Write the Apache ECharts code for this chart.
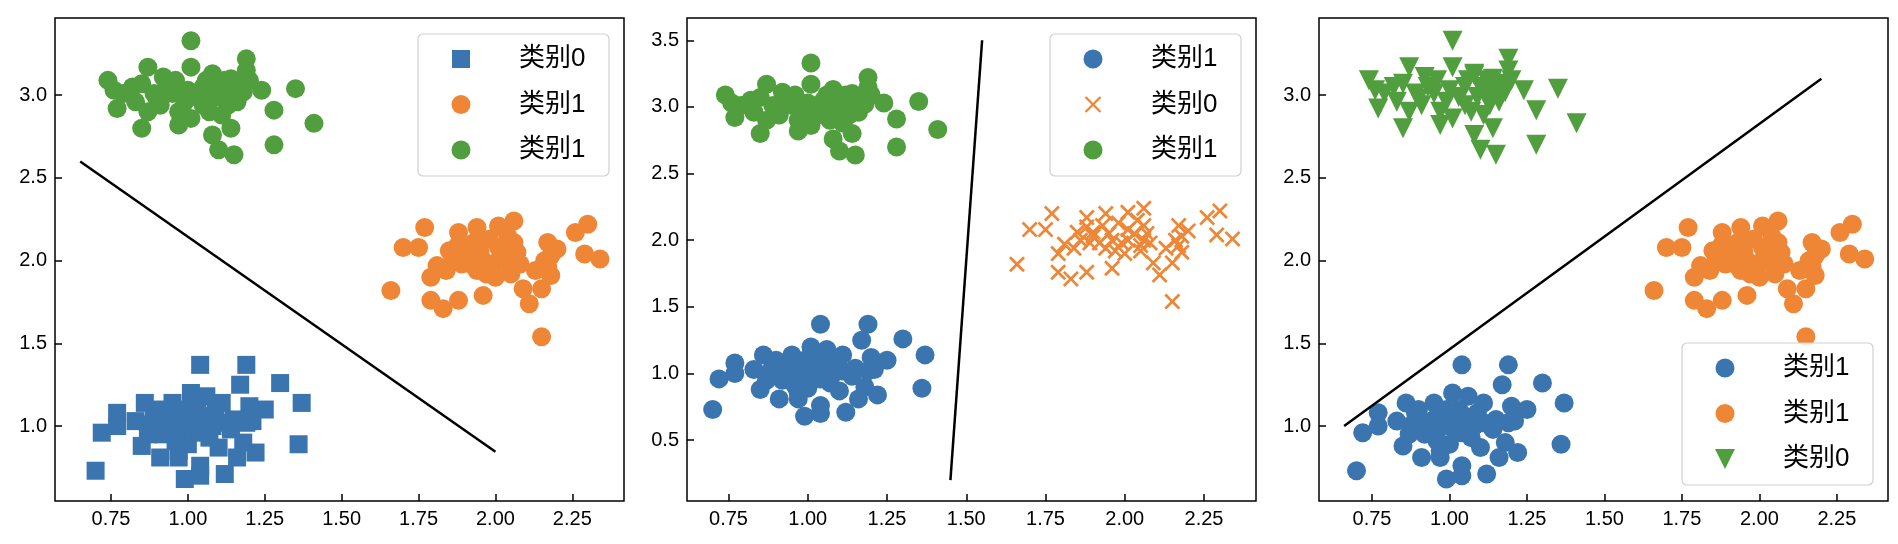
<!DOCTYPE html>
<html>
<head>
<meta charset="utf-8">
<script src="https://cdn.jsdelivr.net/npm/echarts@6/dist/echarts.min.js"></script>
<style>
  html, body { margin: 0; padding: 0; background: #fff; }
  #main { width: 1898px; height: 544px; }
</style>
</head>
<body>
<div id="main"></div>
<script>
// three clusters, same points in every panel
const blue = [
  [0.70, 0.73], [0.72, 0.96], [0.77, 1.08], [0.77, 1.00], [0.85, 0.88], [0.86, 1.14],
  [0.83, 1.03], [0.91, 0.81], [0.97, 0.85], [0.99, 0.68], [1.04, 0.70], [1.04, 0.76],
  [1.04, 1.37], [1.19, 1.37], [1.17, 1.25], [1.30, 1.26], [1.37, 1.14], [1.36, 0.89],
  [1.12, 0.71], [1.16, 0.81], [1.22, 0.84], [1.18, 0.90], [1.25, 1.10], [1.20, 1.12],
  [1.21, 1.03], [1.01, 1.20], [1.06, 1.18], [1.11, 1.14], [0.95, 1.14], [0.89, 1.08],
  [0.92, 0.95], [0.98, 1.06], [1.01, 0.99], [1.07, 0.93], [1.10, 0.87], [1.11, 1.02],
  [1.15, 1.04], [0.96, 0.91], [1.00, 0.89], [0.87, 0.95], [1.05, 1.06], [0.95, 1.04],
  [1.03, 1.10], [1.19, 1.02], [0.97, 0.81], [0.93, 1.02], [0.99, 1.10], [1.02, 1.04],
  [1.08, 1.00], [0.96, 0.97], [1.04, 0.96], [0.90, 1.10], [1.09, 1.08], [1.14, 0.98],
  [0.88, 1.01]
];
const orange = [
  [1.66, 1.82], [1.70, 2.08], [1.75, 2.08], [1.77, 2.20], [1.79, 1.90], [1.79, 1.76],
  [1.83, 1.71], [1.88, 1.76], [1.81, 1.97], [1.85, 2.06], [1.88, 2.17], [1.94, 2.20],
  [1.96, 1.79], [1.96, 2.00], [2.01, 2.21], [2.06, 2.24], [2.06, 2.11], [2.01, 2.08],
  [2.00, 1.90], [2.05, 1.96], [2.09, 1.83], [2.11, 1.74], [2.15, 1.54], [2.15, 1.83],
  [2.18, 1.91], [2.16, 2.00], [2.17, 2.11], [2.20, 2.07], [2.26, 2.17], [2.30, 2.22],
  [2.29, 2.04], [2.34, 2.01], [1.90, 2.06], [1.92, 1.98], [1.84, 1.94], [1.97, 1.92],
  [2.01, 2.00], [2.06, 2.00], [2.04, 2.15], [1.86, 2.00], [1.93, 2.11], [1.89, 1.98],
  [1.98, 2.13], [2.17, 1.96], [2.13, 1.94], [1.90, 2.03], [1.95, 2.05], [2.03, 2.05],
  [2.07, 2.05], [1.88, 2.10], [2.08, 1.98], [1.99, 1.98], [2.18, 2.03], [1.94, 1.94],
  [2.05, 1.92]
];
const green = [
  [1.01, 3.33], [0.74, 3.09], [0.76, 3.03], [0.77, 2.92], [0.85, 2.80], [0.87, 3.17],
  [0.82, 3.05], [0.85, 3.07], [0.91, 2.94], [0.92, 3.11], [0.96, 3.09], [0.97, 2.82],
  [1.01, 2.86], [1.01, 3.17], [1.08, 2.76], [1.10, 2.67], [1.15, 2.64], [1.14, 2.80],
  [1.19, 3.22], [1.19, 3.15], [1.24, 3.03], [1.28, 2.91], [1.28, 2.70], [1.35, 3.04],
  [1.41, 2.83], [1.08, 3.13], [1.12, 3.09], [1.05, 3.05], [1.09, 2.99], [1.13, 2.94],
  [1.16, 2.99], [1.07, 2.90], [0.99, 2.96], [0.95, 3.01], [0.89, 3.01], [0.83, 2.96],
  [0.87, 2.90], [1.17, 3.07], [1.11, 2.88], [1.03, 2.99], [0.97, 2.90], [0.79, 3.01],
  [1.20, 3.09], [1.15, 3.03], [1.05, 2.94], [1.10, 3.05], [1.14, 3.10], [1.06, 3.09],
  [1.18, 3.02], [1.12, 3.00], [1.00, 3.03], [0.93, 3.05], [1.16, 2.96], [1.08, 3.12],
  [0.90, 2.98]
];

// decision lines, one per panel
const line1 = [[0.65, 2.60], [2.00, 0.845]];
const line2 = [[1.45, 0.20], [1.55, 3.50]];
const line3 = [[0.66, 1.00], [2.20, 3.10]];

const xTicks = [0.75, 1.00, 1.25, 1.50, 1.75, 2.00, 2.25];
const yTicks1 = [1.0, 1.5, 2.0, 2.5, 3.0];
const yTicks2 = [0.5, 1.0, 1.5, 2.0, 2.5, 3.0, 3.5];

const BLUE = "#3a75b0";
const ORANGE = "#ef8636";
const GREEN = "#519e3e";
const FONT = "'Liberation Sans', 'Noto Sans CJK SC', sans-serif";
const XSHAPE = "path://M0,1.2L1.2,0L5,3.8L8.8,0L10,1.2L6.2,5L10,8.8L8.8,10L5,6.2L1.2,10L0,8.8L3.8,5Z";

const gridLeft = [55, 687, 1319];
const gridTop = 18, gridW = 569, gridH = 483;
const xRange = [[0.568, 2.418], [0.619, 2.414], [0.579, 2.415]];
const yRange = [[0.547, 3.467], [0.044, 3.667], [0.547, 3.467]];
const yTicks = [yTicks1, yTicks2, yTicks1];

const chart = echarts.init(document.getElementById("main"), null, { renderer: "canvas" });

const grids = gridLeft.map((l) => ({
  left: l, top: gridTop, width: gridW, height: gridH,
  show: true, borderColor: "#000", borderWidth: 1.5, backgroundColor: "transparent",
}));

const xAxes = xRange.map((r, i) => ({
  gridIndex: i, type: "value", min: r[0], max: r[1],
  axisLine: { show: false, onZero: false },
  splitLine: { show: false },
  axisTick: { inside: true, length: 7, customValues: xTicks, lineStyle: { color: "#000", width: 1.5 } },
  axisLabel: {
    customValues: xTicks, formatter: (v) => v.toFixed(2),
    fontSize: 20, color: "#000", fontFamily: FONT, margin: 8,
  },
}));

const yAxes = yRange.map((r, i) => ({
  gridIndex: i, type: "value", min: r[0], max: r[1],
  axisLine: { show: false, onZero: false },
  splitLine: { show: false },
  axisTick: { inside: true, length: 7, customValues: yTicks[i], lineStyle: { color: "#000", width: 1.5 } },
  axisLabel: {
    customValues: yTicks[i], formatter: (v) => v.toFixed(1),
    fontSize: 20, color: "#000", fontFamily: FONT, margin: 8,
  },
}));

function scatter(i, data, color, symbol, size, rotate) {
  return {
    type: "scatter", xAxisIndex: i, yAxisIndex: i, data: data,
    symbol: symbol, symbolSize: size, symbolRotate: rotate || 0,
    itemStyle: { color: color, opacity: 1 }, silent: true,
  };
}
function line(i, data) {
  return {
    type: "line", xAxisIndex: i, yAxisIndex: i, data: data, showSymbol: false,
    lineStyle: { color: "#000", width: 2.5 }, z: 5, silent: true,
  };
}

const series = [
  scatter(0, blue, BLUE, "rect", 18),
  scatter(0, orange, ORANGE, "circle", 19),
  scatter(0, green, GREEN, "circle", 19),
  line(0, line1),
  scatter(1, blue, BLUE, "circle", 19),
  scatter(1, orange, ORANGE, XSHAPE, 16),
  scatter(1, green, GREEN, "circle", 19),
  line(1, line2),
  scatter(2, blue, BLUE, "circle", 19),
  scatter(2, orange, ORANGE, "circle", 19),
  scatter(2, green, GREEN, "triangle", 20, 180),
  line(2, line3),
];

// legends drawn by hand, matplotlib style (names repeat, so the built-in legend can't do it)
const legW = 191, legH = 142, legPad = 15;
function marker(kind, color, cx, cy) {
  if (kind === "circle") return { type: "circle", shape: { cx: cx, cy: cy, r: 9.5 }, style: { fill: color }, z: 101 };
  if (kind === "rect") return { type: "rect", shape: { x: cx - 9, y: cy - 9, width: 18, height: 18 }, style: { fill: color }, z: 101 };
  if (kind === "tri") return { type: "polygon", shape: { points: [[cx - 10, cy - 10], [cx + 10, cy - 10], [cx, cy + 10]] }, style: { fill: color }, z: 101 };
  return {
    type: "group", z: 101, children: [
      { type: "line", shape: { x1: cx - 7.5, y1: cy - 7.5, x2: cx + 7.5, y2: cy + 7.5 }, style: { stroke: color, lineWidth: 2.3 }, z: 101 },
      { type: "line", shape: { x1: cx - 7.5, y1: cy + 7.5, x2: cx + 7.5, y2: cy - 7.5 }, style: { stroke: color, lineWidth: 2.3 }, z: 101 },
    ],
  };
}
function legend(i, atBottom, items) {
  const lx = gridLeft[i] + gridW - legPad - legW;
  const ly = atBottom ? gridTop + gridH - 16 - legH : gridTop + 16;
  const els = [{
    type: "rect", shape: { x: lx, y: ly, width: legW, height: legH, r: 5 },
    style: { fill: "rgba(255,255,255,0.85)", stroke: "#d0d0d0", lineWidth: 1.2 }, z: 100,
  }];
  items.forEach((it, k) => {
    const cy = ly + 25 + k * 45.5;
    els.push(marker(it[0], it[1], lx + 43, cy));
    els.push({
      type: "text", x: lx + 101, y: cy, z: 101,
      style: { text: it[2], fontSize: 26, fontFamily: FONT, fill: "#000", verticalAlign: "middle" },
    });
  });
  return els;
}

const graphic = [].concat(
  legend(0, false, [["rect", BLUE, "类别0"], ["circle", ORANGE, "类别1"], ["circle", GREEN, "类别1"]]),
  legend(1, false, [["circle", BLUE, "类别1"], ["x", ORANGE, "类别0"], ["circle", GREEN, "类别1"]]),
  legend(2, true, [["circle", BLUE, "类别1"], ["circle", ORANGE, "类别1"], ["tri", GREEN, "类别0"]])
);

chart.setOption({
  animation: false,
  backgroundColor: "#fff",
  grid: grids,
  xAxis: xAxes,
  yAxis: yAxes,
  series: series,
  graphic: graphic,
});
</script>
</body>
</html>
